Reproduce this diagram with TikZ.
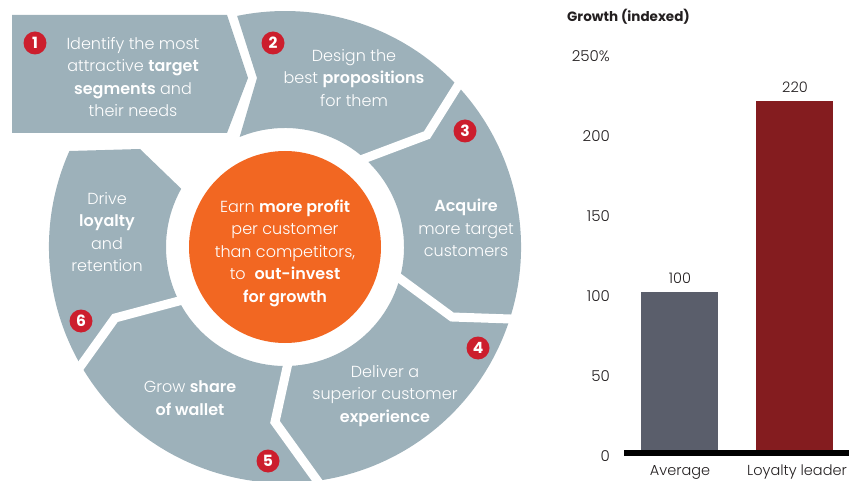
\documentclass[tikz,border=0pt]{standalone}
\usepackage{fontspec}
\setmainfont{Poppins}[UprightFont=* Light,BoldFont=* SemiBold]
\newfontfamily\heavy{Poppins}[UprightFont=* Bold]
\usepackage{tikz}

\definecolor{ring}{RGB}{157,177,186}
\definecolor{hub}{RGB}{242,103,34}
\definecolor{badge}{RGB}{204,30,45}
\definecolor{avgbar}{RGB}{90,94,107}
\definecolor{leadbar}{RGB}{132,28,31}
\definecolor{ink}{RGB}{35,31,32}

\begin{document}
\begin{tikzpicture}[x=1pt,y=1pt]
    \tikzstyle{step text}=[text=white,align=center,inner sep=0pt,font=\fontsize{16}{22.5}\selectfont]
    \tikzstyle{num}=[circle,fill=badge,text=white,minimum size=23pt,inner sep=0pt,font=\fontsize{15.5}{15.5}\selectfont\heavy]
    \tikzstyle{gap}=[draw=white,line width=9pt]
    \tikzstyle{tick}=[anchor=east,text=ink,inner sep=0pt,font=\fontsize{15}{15}\selectfont]
    \tikzstyle{cat}=[text=ink,inner sep=0pt,font=\fontsize{14.5}{15}\selectfont]

    \def\R{236}
    \def\r{119}
    \def\Ro{246}
    \def\ri{109}
    \def\h{96}

    \useasboundingbox (0,0) rectangle (849,-481);

    \coordinate (c) at (285,-247);

    % steps 2 to 6 as one ring, cut apart below
    \fill[ring] ([shift={(156:\R)}]c) arc[start angle=156,end angle=461.7,radius=\R]
        -- (257,-78) -- ([shift={(112.4:\r)}]c)
        arc[start angle=472.4,end angle=150.7,radius=\r]
        -- (140,-149) -- cycle;

    \draw[gap] ([shift={(43.6:\Ro)}]c) -- (427,-135) -- ([shift={(50.8:\ri)}]c);
    \draw[gap] ([shift={(-17.1:\Ro)}]c) -- (452,-317) -- ([shift={(-13.3:\ri)}]c);
    \draw[gap] ([shift={(-80.9:\Ro)}]c) -- (275,-422) -- ([shift={(-87.6:\ri)}]c);
    \draw[gap] ([shift={(211.2:\Ro)}]c) -- (115,-318) -- ([shift={(208.1:\ri)}]c);

    % step 1
    \fill[ring] (12,-15) -- (227,-15) -- (248,-78) -- (227,-133) -- (12,-133) -- cycle;

    % hub
    \fill[hub] (c) circle (\h);

    \node[step text] (s1) at (133,-77) {Identify the most\\attractive \textbf{target}\\\textbf{segments} and\\their needs};
    \node[step text] (s2) at (354,-78) {Design the\\best \textbf{propositions}\\for them};
    \node[step text] (s3) at (466,-228) {\textbf{Acquire}\\more target\\customers};
    \node[step text] (s4) at (385,-396) {Deliver a\\superior customer\\\textbf{experience}};
    \node[step text] (s5) at (190,-398) {Grow \textbf{share}\\\textbf{of wallet}};
    \node[step text] (s6) at (107,-232) {Drive\\\textbf{loyalty}\\and\\retention};
    \node[step text] (goal) at (285,-253) {Earn \textbf{more profit}\\per customer\\than competitors,\\to\ \ \textbf{out-invest}\\\textbf{for growth}};

    \node[num] (n1) at (35,-43) {1};
    \node[num] (n2) at (273,-43) {2};
    \node[num] (n3) at (465,-131) {3};
    \node[num] (n4) at (478,-348) {4};
    \node[num] (n5) at (268,-461) {5};
    \node[num] (n6) at (81,-321) {6};

    % chart
    \node[anchor=west,text=ink,inner sep=0pt,font=\fontsize{13.5}{14}\selectfont\heavy] (title) at (567,-17) {Growth (indexed)};

    \node[tick] (t250) at (610,-56) {250\%};
    \node[tick] (t200) at (610,-136) {200};
    \node[tick] (t150) at (610,-216) {150};
    \node[tick] (t100) at (610,-296) {100};
    \node[tick] (t50)  at (610,-376) {50};
    \node[tick] (t0)   at (610,-456) {0};

    \fill[avgbar] (641,-452) rectangle (718,-292);
    \fill[leadbar] (756,-452) rectangle (833,-101);
    \draw[line width=6pt] (624,-453) -- (849,-453);

    \node[cat] (v1) at (680,-278) {100};
    \node[cat] (v2) at (795,-87) {220};
    \node[cat] (c1) at (680,-472) {Average};
    \node[cat] (c2) at (797,-472) {Loyalty leader};
\end{tikzpicture}
\end{document}
